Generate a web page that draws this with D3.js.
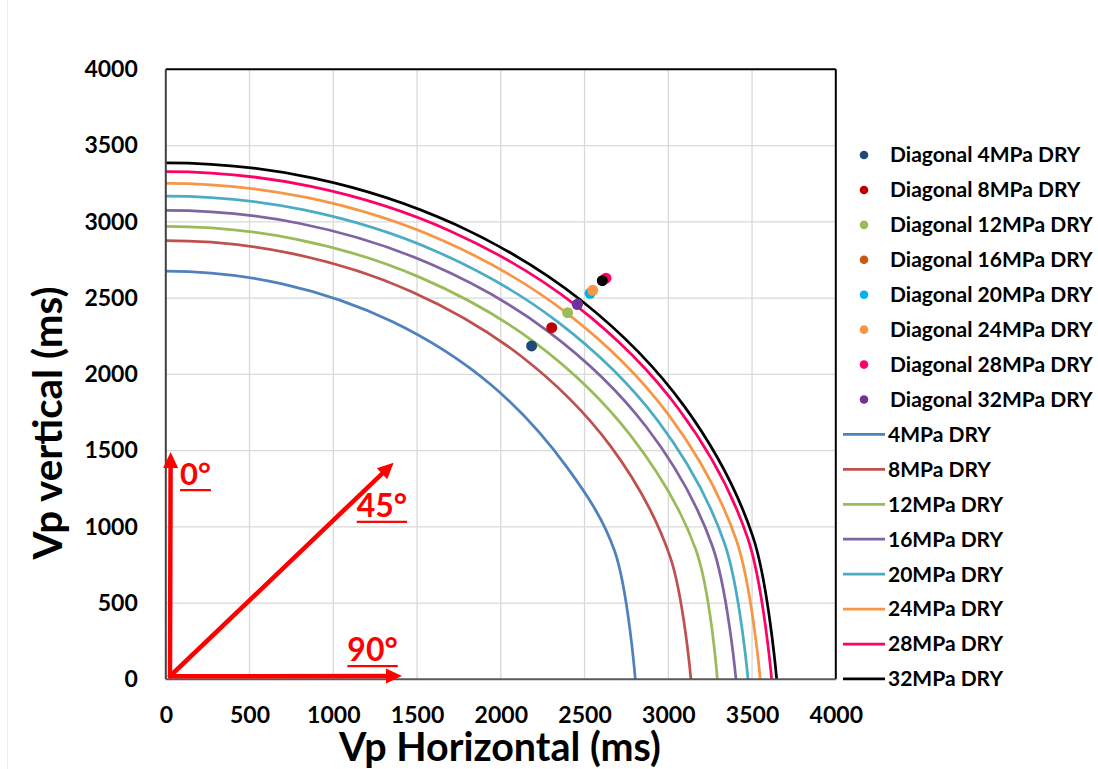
<!DOCTYPE html>
<html>
<head>
<meta charset="utf-8">
<script src="https://cdn.jsdelivr.net/npm/d3@7"></script>
<style>
  html, body { margin: 0; padding: 0; background: #ffffff; }
  svg { display: block; font-family: Lato, "Open Sans", "DejaVu Sans", sans-serif; font-weight: 700; }
</style>
</head>
<body>
<svg id="chart" width="1098" height="769"></svg>
<script>
// ---- axis ticks ----
const xTicks = [0, 500, 1000, 1500, 2000, 2500, 3000, 3500, 4000];
const yTicks = [0, 500, 1000, 1500, 2000, 2500, 3000, 3500, 4000];

// ---- Vp envelopes: (horizontal, vertical) components at 0°, 15°, 30°, 45°, 60°, 75°, 90° from vertical ----
const lineNames = ["4MPa DRY", "8MPa DRY", "12MPa DRY", "16MPa DRY", "20MPa DRY", "24MPa DRY", "28MPa DRY", "32MPa DRY"];
const lineColors = ["#4F81BD", "#C0504D", "#9BBB59", "#8064A2", "#4BACC6", "#F79646", "#FF0066", "#000000"];

const curve4MPa  = [[0,2677],[695,2593],[1354,2344],[1936,1936],[2399,1385],[2680,840],[2803,0]];
const curve8MPa  = [[0,2876],[748,2793],[1468,2542],[2120,2120],[2653,1532],[3010,806],[3135,0]];
const curve12MPa = [[0,2970],[774,2887],[1521,2634],[2206,2206],[2773,1601],[3165,848],[3293,0]];
const curve16MPa = [[0,3075],[801,2989],[1574,2726],[2282,2282],[2868,1656],[3263,874],[3404,0]];
const curve20MPa = [[0,3169],[825,3078],[1619,2804],[2342,2342],[2937,1696],[3335,894],[3476,0]];
const curve24MPa = [[0,3252],[846,3158],[1660,2874],[2398,2398],[3002,1734],[3406,913],[3549,0]];
const curve28MPa = [[0,3329],[866,3232],[1697,2940],[2450,2450],[3064,1769],[3473,930],[3617,0]];
const curve32MPa = [[0,3387],[881,3287],[1723,2985],[2482,2482],[3097,1788],[3504,939],[3647,0]];
const curves = [curve4MPa, curve8MPa, curve12MPa, curve16MPa, curve20MPa, curve24MPa, curve28MPa, curve32MPa];

// ---- measured diagonal (45°) velocities ----
const diagNames = ["Diagonal 4MPa DRY", "Diagonal 8MPa DRY", "Diagonal 12MPa DRY", "Diagonal 16MPa DRY", "Diagonal 20MPa DRY", "Diagonal 24MPa DRY", "Diagonal 28MPa DRY", "Diagonal 32MPa DRY"];
const diagColors = ["#1F497D", "#C00000", "#9BBB59", "#C55A11", "#00B0F0", "#F79646", "#FF0066", "#7030A0"];
const diagH = [2184, 2304, 2399, 2457, 2533, 2549, 2628, 2457];
const diagV = [2186, 2306, 2404, 2459, 2531, 2551, 2630, 2459];

// single marker carried by the 32MPa DRY line series
const line32Marker = [[2606, 2614]];

// ---- direction arrows (data units) ----
const arrowOrigin = [25, 20];
const arrowTips = [[29, 1490], [1360, 1420], [1410, 22]];
const arrowLabels = ["0°", "45°", "90°"];
const arrowLabelAt = [[85, 1274], [1140, 1066], [1084, 120]];

// ---- layout ----
const svg = d3.select("#chart");
const x = d3.scaleLinear().domain([0, 4000]).range([165.8, 835.8]);
const y = d3.scaleLinear().domain([0, 4000]).range([679.3, 69.3]);
const [x0, x1] = x.range();
const [yb, yt] = y.range();

svg.append("defs").append("clipPath").attr("id", "plotClip")
  .append("rect").attr("x", x0).attr("y", yt - 2).attr("width", x1 - x0 + 2).attr("height", yb - yt + 2);

// faint chart-area edge
svg.append("line").attr("x1", 7.5).attr("x2", 7.5).attr("y1", 0).attr("y2", 769)
  .attr("stroke", "#ededed").attr("stroke-width", 1);

// gridlines
const grid = svg.append("g");
grid.selectAll("line.gx").data(xTicks.filter(d => d > 0 && d < 4000)).join("line")
  .attr("class", "gx")
  .attr("x1", d => x(d)).attr("x2", d => x(d)).attr("y1", yt).attr("y2", yb)
  .attr("stroke", "#d9d9d9").attr("stroke-width", 1.3);
grid.selectAll("line.gy").data(yTicks.filter(d => d > 0 && d < 4000)).join("line")
  .attr("class", "gy")
  .attr("y1", d => y(d)).attr("y2", d => y(d)).attr("x1", x0).attr("x2", x1)
  .attr("stroke", "#d9d9d9").attr("stroke-width", 1.3);

// axes
const tickFont = 23;
const yAxis = svg.append("g").attr("transform", `translate(${x0},0)`)
  .call(d3.axisLeft(y).tickValues(yTicks).tickSize(0).tickPadding(28).tickFormat(d3.format("d")));
const xAxis = svg.append("g").attr("transform", `translate(0,${yb})`)
  .call(d3.axisBottom(x).tickValues(xTicks).tickSize(0).tickPadding(27).tickFormat(d3.format("d")));
[xAxis, yAxis].forEach(g => {
  g.select(".domain").remove();
  g.attr("font-family", null).attr("font-size", null);
  g.selectAll("text").attr("font-size", tickFont).attr("fill", "#000").attr("font-weight", 700);
});

// envelope curves: symmetric about the vertical axis, so the mirrored 15° sample
// keeps the tangent flat at 0°; the 90° end is left to the plain smoothing
const lineGen = d3.line()
  .x(d => x(d[0])).y(d => y(d[1]))
  .curve(d3.curveCatmullRom.alpha(0.5));
const withTopMirror = pts => [[-pts[1][0], pts[1][1]], ...pts];
svg.append("g").attr("clip-path", "url(#plotClip)")
  .selectAll("path").data(curves).join("path")
  .attr("d", d => lineGen(withTopMirror(d)))
  .attr("fill", "none")
  .attr("stroke", (d, i) => lineColors[i])
  .attr("stroke-width", 2.75)
  .attr("stroke-linejoin", "round");

// plot frame
svg.append("line").attr("x1", x0).attr("x2", x1).attr("y1", yt).attr("y2", yt).attr("stroke", "#000").attr("stroke-width", 2);
svg.append("line").attr("x1", x1).attr("x2", x1).attr("y1", yt).attr("y2", yb).attr("stroke", "#000").attr("stroke-width", 2);
svg.append("line").attr("x1", x0).attr("x2", x0).attr("y1", yt).attr("y2", yb).attr("stroke", "#404040").attr("stroke-width", 2);
svg.append("line").attr("x1", x0).attr("x2", x1).attr("y1", yb).attr("y2", yb).attr("stroke", "#595959").attr("stroke-width", 2);

// diagonal points
const dots = svg.append("g");
dots.selectAll("circle.diag").data(diagH).join("circle")
  .attr("class", "diag")
  .attr("cx", d => x(d)).attr("cy", (d, i) => y(diagV[i]))
  .attr("r", 5.5)
  .attr("fill", (d, i) => diagColors[i]);
dots.selectAll("circle.l32").data(line32Marker).join("circle")
  .attr("class", "l32")
  .attr("cx", d => x(d[0])).attr("cy", d => y(d[1]))
  .attr("r", 5.5).attr("fill", lineColors[7]);

// direction arrows
const arrows = svg.append("g");
const headLen = 16, headHalf = 7.5, stem = 4.5, red = "#FF0000";
arrowTips.forEach(t => {
  const ox = x(arrowOrigin[0]), oy = y(arrowOrigin[1]);
  const tx = x(t[0]), ty = y(t[1]);
  const len = Math.hypot(tx - ox, ty - oy);
  const ux = (tx - ox) / len, uy = (ty - oy) / len;
  const bx = tx - ux * headLen, by = ty - uy * headLen;
  arrows.append("line")
    .attr("x1", ox).attr("y1", oy).attr("x2", bx + ux * 2).attr("y2", by + uy * 2)
    .attr("stroke", red).attr("stroke-width", stem).attr("stroke-linecap", "round");
  arrows.append("path")
    .attr("d", `M${tx},${ty}L${bx - uy * headHalf},${by + ux * headHalf}L${bx + uy * headHalf},${by - ux * headHalf}Z`)
    .attr("fill", red);
});
arrowLabels.forEach((lab, i) => {
  const t = arrows.append("text")
    .attr("x", x(arrowLabelAt[i][0])).attr("y", y(arrowLabelAt[i][1]))
    .attr("font-size", i === 0 ? 31 : 32).attr("fill", red)
    .text(lab);
  const w = t.node().getComputedTextLength();
  arrows.append("rect")
    .attr("x", x(arrowLabelAt[i][0])).attr("y", y(arrowLabelAt[i][1]) + 4)
    .attr("width", w).attr("height", 2.2).attr("fill", red);
});

// axis titles, sized to their measured span
function fitWidth(sel, target) {
  const w = sel.node().getComputedTextLength();
  const fs = parseFloat(sel.attr("font-size"));
  sel.attr("font-size", fs * target / w);
}
const xTitle = svg.append("text")
  .attr("x", 500).attr("y", 761).attr("text-anchor", "middle")
  .attr("font-size", 38).attr("fill", "#000").text("Vp Horizontal (ms)");
fitWidth(xTitle, 322);
const yTitle = svg.append("text")
  .attr("transform", "translate(62,423) rotate(-90)").attr("text-anchor", "middle")
  .attr("font-size", 40).attr("fill", "#000").text("Vp vertical (ms)");
fitWidth(yTitle, 273);

// legend
const legY0 = 155, legStep = 34.93, legFont = 21;
const legend = svg.append("g");
diagNames.forEach((name, i) => {
  const cy = legY0 + i * legStep;
  legend.append("circle").attr("cx", 864).attr("cy", cy).attr("r", 4.3).attr("fill", diagColors[i]);
  legend.append("text").attr("x", 890).attr("y", cy).attr("dy", "0.35em")
    .attr("font-size", legFont).attr("fill", "#000").text(name);
});
lineNames.forEach((name, i) => {
  const cy = legY0 + (8 + i) * legStep;
  legend.append("line").attr("x1", 843).attr("x2", 885).attr("y1", cy).attr("y2", cy)
    .attr("stroke", lineColors[i]).attr("stroke-width", 2.75);
  legend.append("text").attr("x", 888).attr("y", cy).attr("dy", "0.35em")
    .attr("font-size", legFont).attr("fill", "#000").text(name);
});
</script>
</body>
</html>
